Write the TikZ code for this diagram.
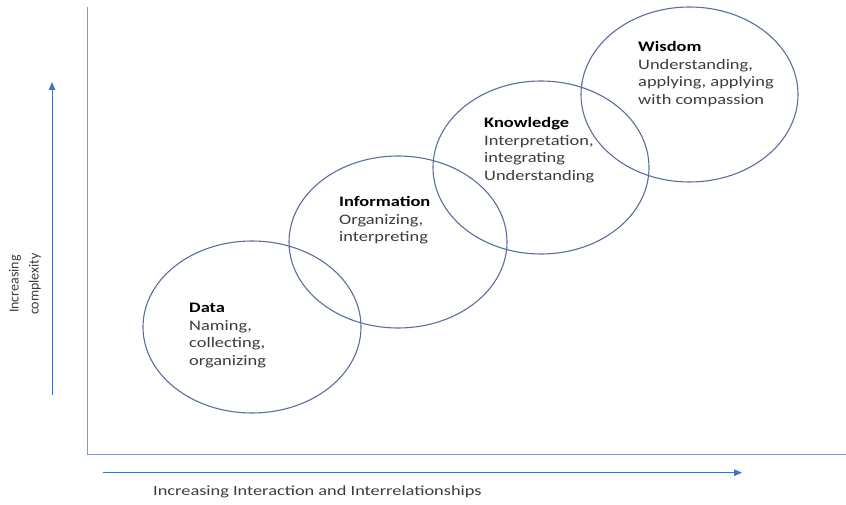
\documentclass[tikz,border=0pt]{standalone}
\usepackage{fontspec}
\setmainfont{Carlito}
\usepackage{graphicx}
\usetikzlibrary{shapes.geometric,arrows.meta}
\definecolor{axiscol}{HTML}{7F97CC}
\definecolor{arrcol}{HTML}{4472C4}
\definecolor{ellcol}{HTML}{5A6E9C}
\definecolor{txtcol}{HTML}{3C3C3C}
\tikzset{
  x=1pt, y=1pt,
  bubble/.style={ellipse, draw=ellcol, line width=1.1pt, inner sep=0pt},
  axisline/.style={draw=axiscol, line width=1pt},
  dirarrow/.style={draw=arrcol, line width=1pt, -{Triangle[length=8pt,width=6.5pt]}},
  bubbletext/.style={anchor=base west, inner sep=0pt, text=txtcol},
  axislabel/.style={inner sep=0pt, text=txtcol, font=\fontsize{14}{20}\selectfont}
}
\newcommand{\bubblelines}[1]{\scalebox{1.27}[1]{\fontsize{14.5}{17.7}\selectfont\begin{tabular}[t]{@{}l@{}}#1\end{tabular}}}
\begin{document}
\begin{tikzpicture}
\useasboundingbox (0,0) rectangle (846,504);
% axes
\coordinate (ytop) at (87,497);
\coordinate (origin) at (87,50);
\coordinate (xright) at (846,50);
\draw[axisline] (ytop) -- (origin) -- (xright);
% direction arrows
\coordinate (upS) at (52,109);
\coordinate (upE) at (52,422);
\coordinate (rtS) at (103,31.3);
\coordinate (rtE) at (742,31.3);
\draw[dirarrow] (upS) -- (upE);
\draw[dirarrow] (rtS) -- (rtE);
% bubbles
\node[bubble, minimum width=218pt, minimum height=172pt] (data) at (252,177) {};
\node[bubble, minimum width=218pt, minimum height=172pt] (info) at (398,262) {};
\node[bubble, minimum width=216pt, minimum height=173pt] (know) at (541,336.5) {};
\node[bubble, minimum width=217pt, minimum height=175pt] (wis) at (689.5,409.5) {};
% texts
\node[bubbletext] (datat) at (189,191.5) {\bubblelines{\textcolor{black}{\textbf{Data}}\\Naming,\\collecting,\\organizing}};
\node[bubbletext] (infot) at (339,297.5) {\bubblelines{\textcolor{black}{\textbf{Information}}\\Organizing,\\interpreting}};
\node[bubbletext] (knowt) at (484,376.5) {\bubblelines{\textcolor{black}{\textbf{Knowledge}}\\Interpretation,\\integrating\\Understanding}};
\node[bubbletext] (wist) at (638,452.5) {\bubblelines{\textcolor{black}{\textbf{Wisdom}}\\Understanding,\\applying, applying\\with compassion}};
% axis labels
\node[axislabel, anchor=west] (xlab) at (153,12) {\scalebox{1.31}[1]{Increasing Interaction and Interrelationships}};
\node[axislabel, rotate=90, align=center] (ylab) at (25,220) {Increasing\\complexity};
\end{tikzpicture}
\end{document}
